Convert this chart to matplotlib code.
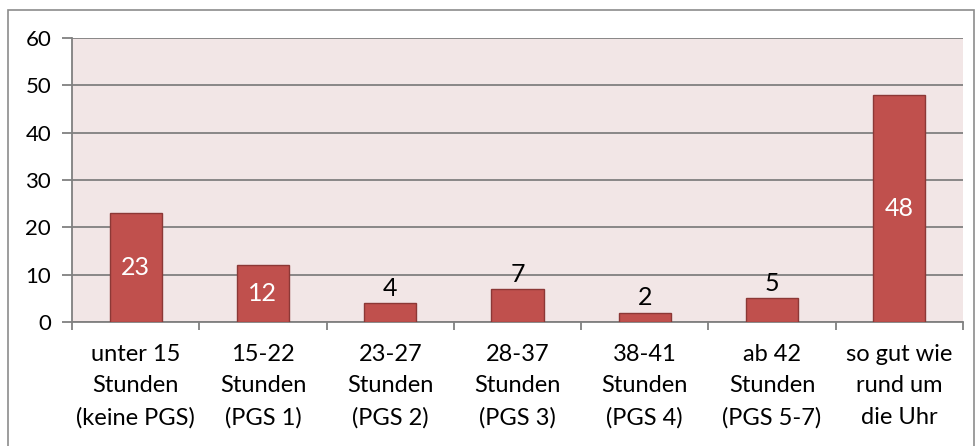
import matplotlib.pyplot as plt
from matplotlib.patches import Rectangle

categories = [
    "unter 15\nStunden\n(keine PGS)",
    "15-22\nStunden\n(PGS 1)",
    "23-27\nStunden\n(PGS 2)",
    "28-37\nStunden\n(PGS 3)",
    "38-41\nStunden\n(PGS 4)",
    "ab 42\nStunden\n(PGS 5-7)",
    "so gut wie\nrund um\ndie Uhr",
]
values = [23, 12, 4, 7, 2, 5, 48]
label_inside = [True, True, False, False, False, False, True]
yticks = [0, 10, 20, 30, 40, 50, 60]

plt.rcParams["font.family"] = ["Lato", "DejaVu Sans"]

fig = plt.figure(figsize=(9.76, 4.46), dpi=100)
fig.patches.append(Rectangle((8 / 976, -0.1), 966 / 976, 1.1 - 10 / 446,
                             transform=fig.transFigure, fill=False,
                             edgecolor="#8c8c8c", linewidth=1.2))
ax = fig.add_axes([72 / 976, 1 - 322 / 446, 891 / 976, 284 / 446])
ax.set_facecolor("#f2e6e6")

x = list(range(len(values)))
bars = ax.bar(x, values, width=0.41, color="#c0504d", edgecolor="#8c3836",
              linewidth=1, zorder=3)

for rect, v, inside in zip(bars, values, label_inside):
    cx = rect.get_x() + rect.get_width() / 2
    if inside:
        ax.text(cx, v / 2, str(v), ha="center", va="center",
                color="white", fontsize=18, zorder=4)
    else:
        ax.text(cx, v + 0.7, str(v), ha="center", va="bottom",
                color="black", fontsize=18, zorder=4)

ax.set_xlim(-0.5, len(values) - 0.5)
ax.set_ylim(0, 60)
ax.set_yticks(yticks)
ax.yaxis.grid(True, color="#808080", linewidth=1.3, zorder=1)
ax.set_axisbelow(True)

ax.set_xticks([i - 0.5 for i in range(len(values) + 1)], minor=False)
ax.set_xticklabels([])
ax.set_xticks(x, minor=True)
ax.set_xticklabels(categories, minor=True, fontsize=17)
for lbl in ax.get_xticklabels(minor=True):
    lbl.set_linespacing(1.6)
ax.tick_params(axis="x", which="minor", length=0, pad=16)
ax.tick_params(axis="x", which="major", length=6, color="#808080", width=1.3)
ax.tick_params(axis="y", length=7, color="#808080", width=1.3,
               labelsize=16, pad=8)

for side in ["top", "right"]:
    ax.spines[side].set_visible(False)
for side in ["left", "bottom"]:
    ax.spines[side].set_color("#808080")
    ax.spines[side].set_linewidth(1.3)

fig.savefig("out.png", dpi=100)
